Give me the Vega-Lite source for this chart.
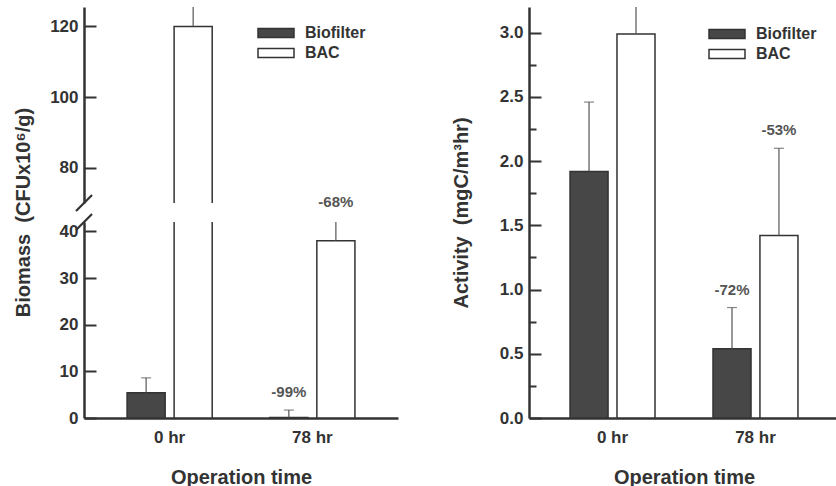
{
  "$schema": "https://vega.github.io/schema/vega-lite/v6.json",
  "padding": {"left": 13, "top": 7, "right": 0, "bottom": 0},
  "datasets": {
    "biomass": [
      {"time": "0 hr", "group": "Biofilter", "value": 5.4, "upper": 8.6},
      {"time": "0 hr", "group": "BAC", "value": 120, "upper": 128},
      {"time": "78 hr", "group": "Biofilter", "value": 0.1, "upper": 1.7, "label": "-99%"},
      {"time": "78 hr", "group": "BAC", "value": 38, "upper": 42.5, "label": "-68%"}
    ],
    "activity": [
      {"time": "0 hr", "group": "Biofilter", "value": 1.92, "upper": 2.46},
      {"time": "0 hr", "group": "BAC", "value": 2.99, "upper": 3.5},
      {"time": "78 hr", "group": "Biofilter", "value": 0.54, "upper": 0.86, "label": "-72%"},
      {"time": "78 hr", "group": "BAC", "value": 1.42, "upper": 2.1, "label": "-53%"}
    ]
  },
  "config": {
    "view": {"stroke": null},
    "font": "Liberation Sans",
    "axis": {
      "domainColor": "#333", "domainWidth": 2.5, "tickColor": "#333", "tickWidth": 2,
      "labelFont": "Liberation Sans", "labelFontWeight": "bold", "labelFontSize": 17, "labelColor": "#333",
      "titleFont": "Liberation Sans", "titleFontWeight": "bold", "titleFontSize": 20, "titleColor": "#333",
      "grid": false, "labelOverlap": false
    },
    "axisX": {"ticks": false, "labelAngle": 0, "labelPadding": 11, "titlePadding": 22},
    "axisY": {"tickSize": -12, "labelPadding": 18, "tickCount": 30},
    "legend": {
      "title": null, "orient": "none", "padding": 0,
      "symbolType": "M-2,-0.5L2,-0.5L2,0.5L-2,0.5Z", "symbolSize": 324,
      "symbolStrokeColor": "#333", "symbolStrokeWidth": 1.5,
      "labelFont": "Liberation Sans", "labelFontSize": 16, "labelFontWeight": "bold", "labelColor": "#333",
      "labelOffset": 19, "rowPadding": 2
    }
  },
  "hconcat": [
    {
      "spacing": 19,
      "bounds": "flush",
      "resolve": {"scale": {"y": "independent", "color": "independent"}, "legend": {"color": "independent"}},
      "vconcat": [
        {
          "width": 314, "height": 196,
          "layer": [
            {
              "data": {"name": "biomass"},
              "transform": [{"filter": "datum.value > 70"}],
              "mark": {"type": "bar", "stroke": "#333", "strokeWidth": 1.5, "clip": true},
              "encoding": {
                "x": {"field": "time", "type": "nominal", "axis": null,
                      "scale": {"domain": ["0 hr", "78 hr"], "paddingInner": 0.4035, "paddingOuter": 0.3018}},
                "xOffset": {"field": "group", "type": "nominal",
                            "scale": {"domain": ["Biofilter", "BAC"], "paddingInner": 0.19, "paddingOuter": 0}},
                "y": {"field": "value", "type": "quantitative",
                      "scale": {"domain": [70, 125.5], "nice": false, "zero": false},
                      "axis": {"values": [80, 100, 120],
                               "title": "Biomass \u00a0(CFUx10⁶/g)", "titleX": -51, "titleY": 205}},
                "color": {"field": "group", "type": "nominal",
                          "scale": {"domain": ["Biofilter", "BAC"], "range": ["#474747", "#ffffff"]},
                          "legend": {"legendX": 182, "legendY": 16}}
              }
            },
            {
              "data": {"name": "biomass"},
              "transform": [{"filter": "datum.value > 70"}],
              "mark": {"type": "rule", "color": "#555", "strokeWidth": 1.2, "clip": true},
              "encoding": {
                "x": {"field": "time", "type": "nominal"},
                "xOffset": {"field": "group", "type": "nominal"},
                "y": {"field": "value", "type": "quantitative"}, "y2": {"field": "upper"}
              }
            },
            {
              "data": {"values": [{}]},
              "mark": {"type": "point", "shape": "M-1,1L1,-1", "size": 256, "filled": false, "stroke": "#333", "strokeWidth": 2.2, "opacity": 1},
              "encoding": {
                "x": {"datum": "0 hr", "type": "nominal", "bandPosition": -0.5059},
                "y": {"datum": 70, "type": "quantitative"}
              }
            }
          ]
        },
        {
          "width": 314, "height": 196,
          "layer": [
            {
              "data": {"name": "biomass"},
              "mark": {"type": "bar", "stroke": "#333", "strokeWidth": 1.5, "clip": true},
              "encoding": {
                "x": {"field": "time", "type": "nominal",
                      "scale": {"domain": ["0 hr", "78 hr"], "paddingInner": 0.4035, "paddingOuter": 0.3018},
                      "axis": {"title": "Operation time"}},
                "xOffset": {"field": "group", "type": "nominal",
                            "scale": {"domain": ["Biofilter", "BAC"], "paddingInner": 0.19, "paddingOuter": 0}},
                "y": {"field": "value", "type": "quantitative",
                      "scale": {"domain": [0, 42], "nice": false},
                      "axis": {"values": [0, 10, 20, 30, 40], "title": null}},
                "color": {"field": "group", "type": "nominal",
                          "scale": {"domain": ["Biofilter", "BAC"], "range": ["#474747", "#ffffff"]},
                          "legend": null}
              }
            },
            {
              "data": {"name": "biomass"},
              "mark": {"type": "rule", "color": "#555", "strokeWidth": 1.2, "clip": true},
              "encoding": {
                "x": {"field": "time", "type": "nominal"},
                "xOffset": {"field": "group", "type": "nominal"},
                "y": {"field": "value", "type": "quantitative"}, "y2": {"field": "upper"}
              }
            },
            {
              "data": {"name": "biomass"},
              "mark": {"type": "tick", "color": "#555", "thickness": 1.2, "size": 10, "clip": true},
              "encoding": {
                "x": {"field": "time", "type": "nominal"},
                "xOffset": {"field": "group", "type": "nominal"},
                "y": {"field": "upper", "type": "quantitative"}
              }
            },
            {
              "data": {"name": "biomass"},
              "transform": [{"filter": "isValid(datum.label)"}],
              "mark": {"type": "text", "font": "Liberation Sans", "fontSize": 15, "fontWeight": "bold", "color": "#555", "dy": -18, "baseline": "middle"},
              "encoding": {
                "x": {"field": "time", "type": "nominal"},
                "xOffset": {"field": "group", "type": "nominal"},
                "y": {"field": "upper", "type": "quantitative"}, "text": {"field": "label"}
              }
            },
            {
              "data": {"values": [{}]},
              "mark": {"type": "point", "shape": "M-1,1L1,-1", "size": 256, "filled": false, "stroke": "#333", "strokeWidth": 2.2, "opacity": 1},
              "encoding": {
                "x": {"datum": "0 hr", "type": "nominal", "bandPosition": -0.5059},
                "y": {"datum": 42, "type": "quantitative"}
              }
            }
          ]
        }
      ]
    },
    {
      "width": 310, "height": 411,
      "data": {"name": "activity"},
      "encoding": {
        "x": {"field": "time", "type": "nominal",
              "scale": {"domain": ["0 hr", "78 hr"], "paddingInner": 0.4056, "paddingOuter": 0.287},
              "axis": {"title": "Operation time"}},
        "xOffset": {"field": "group", "type": "nominal",
                    "scale": {"domain": ["Biofilter", "BAC"], "paddingInner": 0.19, "paddingOuter": 0}}
      },
      "layer": [
        {
          "mark": {"type": "bar", "stroke": "#333", "strokeWidth": 1.5, "clip": true},
          "encoding": {
            "y": {"field": "value", "type": "quantitative",
                  "scale": {"domain": [0, 3.2], "nice": false},
                  "axis": {"values": [0, 0.25, 0.5, 0.75, 1, 1.25, 1.5, 1.75, 2, 2.25, 2.5, 2.75, 3],
                           "labelExpr": "datum.value % 0.5 === 0 ? format(datum.value, '.1f') : ''",
                           "tickSize": {"condition": {"test": "datum.value % 0.5 === 0", "value": -12}, "value": -7},
                           "title": "Activity \u00a0(mgC/m³hr)", "titleX": -58}},
            "color": {"field": "group", "type": "nominal",
                      "scale": {"domain": ["Biofilter", "BAC"], "range": ["#474747", "#ffffff"]},
                      "legend": {"legendX": 188, "legendY": 17}}
          }
        },
        {
          "mark": {"type": "rule", "color": "#555", "strokeWidth": 1.2, "clip": true},
          "encoding": {"y": {"field": "value", "type": "quantitative"}, "y2": {"field": "upper"}}
        },
        {
          "mark": {"type": "tick", "color": "#555", "thickness": 1.2, "size": 10, "clip": true},
          "encoding": {"y": {"field": "upper", "type": "quantitative"}}
        },
        {
          "transform": [{"filter": "isValid(datum.label)"}],
          "mark": {"type": "text", "font": "Liberation Sans", "fontSize": 15, "fontWeight": "bold", "color": "#555", "dy": -18, "baseline": "middle"},
          "encoding": {"y": {"field": "upper", "type": "quantitative"}, "text": {"field": "label"}}
        }
      ]
    }
  ],
  "spacing": 53,
  "resolve": {"scale": {"y": "independent", "color": "independent", "x": "independent", "xOffset": "independent"}, "legend": {"color": "independent"}}
}
